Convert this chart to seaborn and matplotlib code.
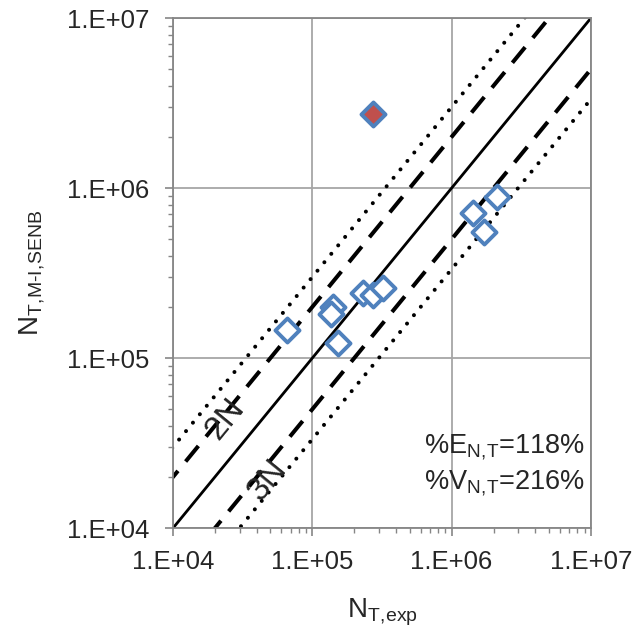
import numpy as np
import pandas as pd
import matplotlib
matplotlib.use("Agg")
import matplotlib.pyplot as plt
import matplotlib.ticker as mticker
import seaborn as sns

# dados
n_exp = [6.6e4, 1.41e5, 1.36e5, 1.53e5, 2.31e5, 2.73e5, 3.22e5, 1.43e6, 1.71e6, 2.12e6]
n_pred = [1.46e5, 2.0e5, 1.81e5, 1.23e5, 2.41e5, 2.35e5, 2.58e5, 7.13e5, 5.51e5, 8.85e5]
outlier_exp = [2.72e5]
outlier_pred = [2.72e6]
band_factors = [1, 2, 0.5, 3, 1 / 3]
band_styles = ["-", (0, (5, 3)), (0, (5, 3)), (0, (0.01, 2.7)), (0, (0.01, 2.7))]
stats_text = [r"%E$_{\mathregular{N,\!T}}$=118%", r"%V$_{\mathregular{N,\!T}}$=216%"]

sns.set_style("white")
plt.rcParams['font.family'] = ['Liberation Sans', 'DejaVu Sans']
plt.rcParams['mathtext.fontset'] = 'custom'
plt.rcParams['mathtext.rm'] = 'Liberation Sans'

fig = plt.figure(figsize=(6.34, 6.35), dpi=100)
ax = fig.add_axes([0.273, 0.1685, 0.659, 0.803])

# linhas de referência
xx = np.array([1e3, 1e8])
for f, ls in zip(band_factors, band_styles):
    lw = 2.0 if f == 1 else 2.9
    ax.plot(xx, xx * f, color="black", linestyle=ls, linewidth=lw, zorder=2,
            dash_capstyle="round" if f in (3, 1 / 3) else "butt")

df = pd.DataFrame({"exp": n_exp, "pred": n_pred})
sns.scatterplot(data=df, x="exp", y="pred", ax=ax, marker="D", s=150,
                facecolor="white", edgecolor="#4F81BD", linewidth=2.8, zorder=3)
df_out = pd.DataFrame({"exp": outlier_exp, "pred": outlier_pred})
sns.scatterplot(data=df_out, x="exp", y="pred", ax=ax, marker="D", s=150,
                facecolor="#C0504D", edgecolor="#4F81BD", linewidth=2.8, zorder=4)

ax.set_xscale("log")
ax.set_yscale("log")
ax.set_xlim(1e4, 1e7)
ax.set_ylim(1e4, 1e7)

fmt = mticker.FuncFormatter(lambda v, p: "1.E+%02d" % int(round(np.log10(v))))
ax.xaxis.set_major_formatter(fmt)
ax.yaxis.set_major_formatter(fmt)
ax.xaxis.set_minor_formatter(mticker.NullFormatter())
ax.yaxis.set_minor_formatter(mticker.NullFormatter())
ax.xaxis.set_major_locator(mticker.LogLocator(base=10, numticks=10))
ax.yaxis.set_major_locator(mticker.LogLocator(base=10, numticks=10))
ax.xaxis.set_minor_locator(mticker.LogLocator(base=10, subs=np.arange(2, 10), numticks=20))
ax.yaxis.set_minor_locator(mticker.LogLocator(base=10, subs=np.arange(2, 10), numticks=20))
ax.tick_params(which="major", direction="out", length=6, width=1.2, color="#868686",
               labelsize=18.5, bottom=True, left=True)
ax.tick_params(axis="x", which="major", pad=10)
ax.tick_params(axis="y", which="major", pad=11)
ax.tick_params(which="minor", direction="out", length=3.5, width=1.0, color="#868686",
               bottom=True, left=True)

ax.grid(True, which="major", color="#A6A6A6", linewidth=1.3)
ax.grid(False, which="minor")
for s in ax.spines.values():
    s.set_color("#868686")
    s.set_linewidth(1.3)

ax.set_xlabel(r"N$_{\mathregular{T,\!exp}}$", fontsize=20, labelpad=16)
ax.set_ylabel(r"N$_{\mathregular{T,\!M\text{-}I,\!SENB}}$", fontsize=20, labelpad=14)

ax.text(2.36e4, 4.4e4, "2N", fontsize=24, rotation=50.7, ha="center", va="center",
        rotation_mode="anchor", zorder=5)
ax.text(4.8e4, 1.92e4, "3N", fontsize=24, rotation=50.7, ha="center", va="center",
        rotation_mode="anchor", zorder=5)

ax.text(0.985, 0.158, stats_text[0], transform=ax.transAxes, fontsize=19.5,
        ha="right", va="center")
ax.text(0.985, 0.088, stats_text[1], transform=ax.transAxes, fontsize=19.5,
        ha="right", va="center")

fig.savefig("out.png", dpi=100)
